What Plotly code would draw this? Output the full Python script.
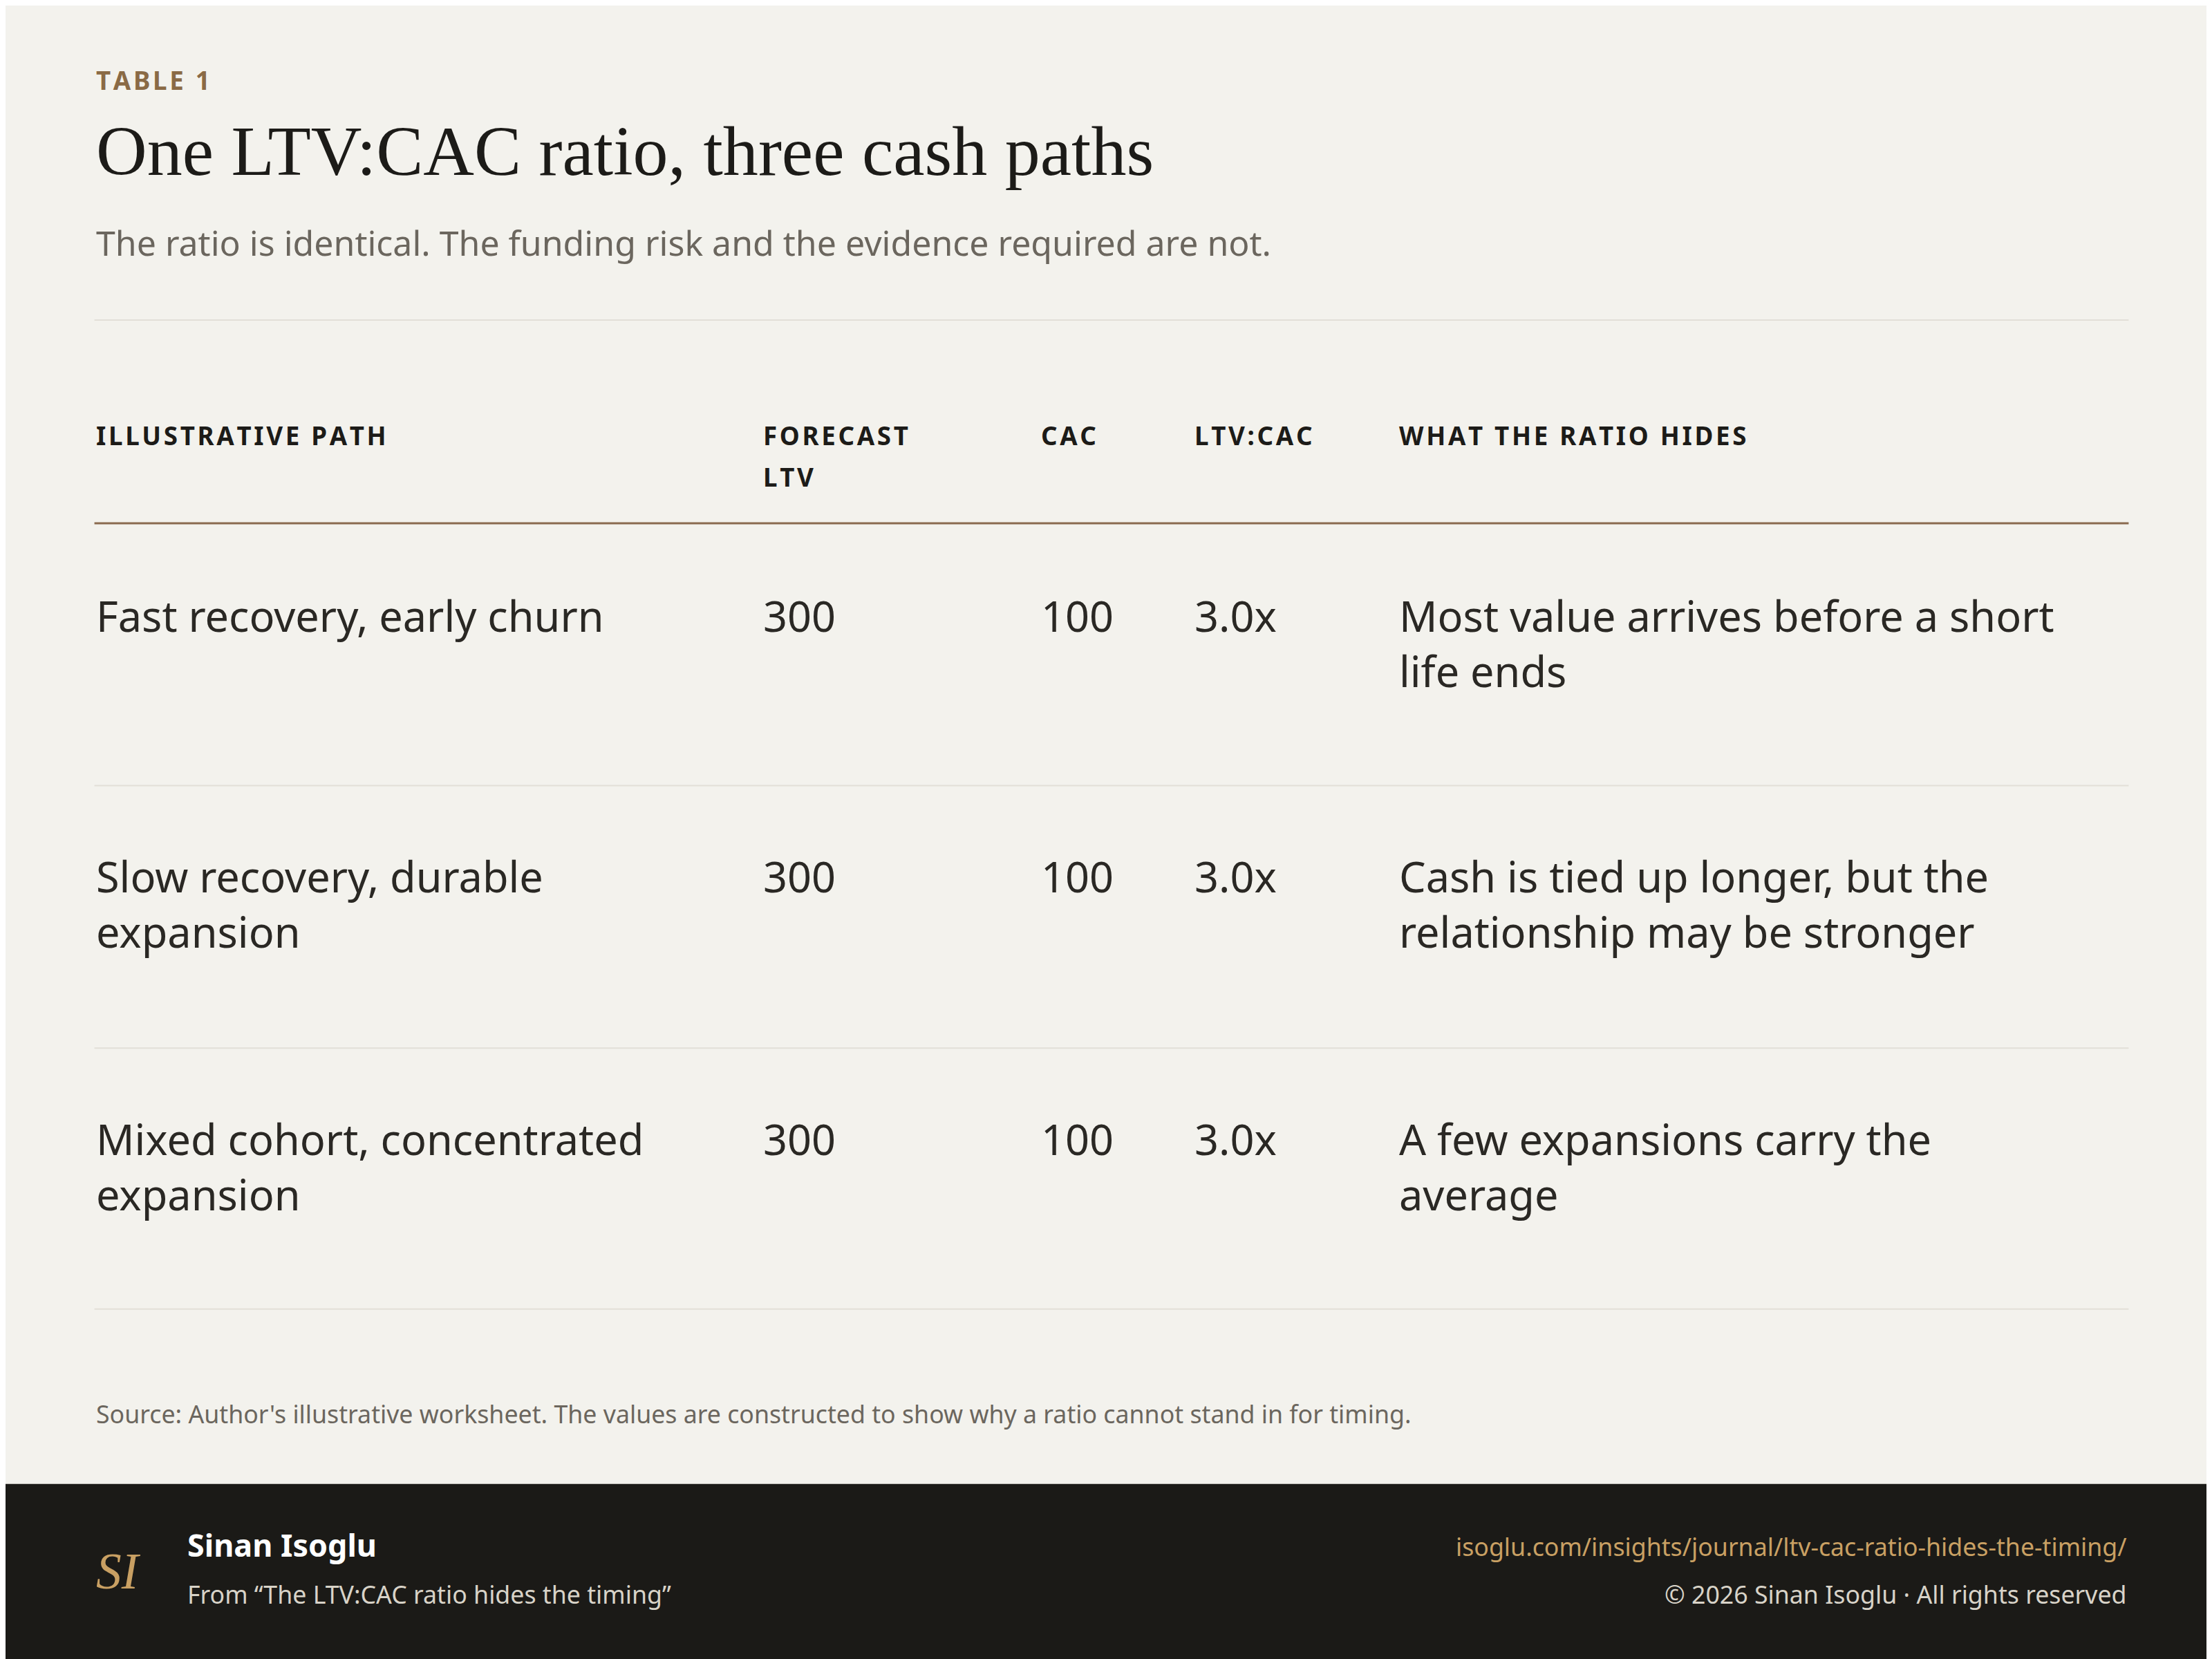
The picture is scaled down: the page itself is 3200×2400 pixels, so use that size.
import plotly.graph_objects as go

S = 3200 / 1568  # layout drawn in pixel units of the page

kicker = "TABLE 1"
title = "One LTV:CAC ratio, three cash paths"
subtitle = "The ratio is identical. The funding risk and the evidence required are not."
headers = ["ILLUSTRATIVE PATH", "FORECAST<br>LTV", "CAC", "LTV:CAC", "WHAT THE RATIO HIDES"]
paths = ["Fast recovery, early churn", "Slow recovery, durable<br>expansion",
         "Mixed cohort, concentrated<br>expansion"]
ltv = ["300", "300", "300"]
cac = ["100", "100", "100"]
ratio = ["3.0x", "3.0x", "3.0x"]
hides = ["Most value arrives before a short<br>life ends",
         "Cash is tied up longer, but the<br>relationship may be stronger",
         "A few expansions carry the<br>average"]
source = "Source: Author's illustrative worksheet. The values are constructed to show why a ratio cannot stand in for timing."
author = "Sinan Isoglu"
origin = "From “The LTV:CAC ratio hides the timing”"
url = "isoglu.com/insights/journal/ltv-cac-ratio-hides-the-timing/"
rights = "© 2026 Sinan Isoglu · All rights reserved"

col_x = [63, 536, 733, 842, 987]
row_y = [435, 620, 806]
sep_y = [553, 739, 924]

SANS = "Noto Sans"
SERIF = "Liberation Serif"
INK = "#1c1b18"
MUTED = "#6b665e"


def track(s):
    return "\u200a".join(s)


fig = go.Figure()
ann = []


def txt(x, y, t, size, color=INK, font=SANS, anchor="left", yanchor="middle", bold=False):
    if bold:
        t = "<b>" + t + "</b>"
    ann.append(dict(x=x * S, y=y * S, text=t, showarrow=False, xanchor=anchor, yanchor=yanchor,
                    align=anchor, font=dict(family=font, size=size * S, color=color)))


txt(63, 53, track(kicker), 18, "#8a6a45", bold=True)
txt(63, 103, title, 50, INK, SERIF)
txt(63, 168, subtitle, 24.5, MUTED)

for x, h in zip(col_x, headers):
    parts = h.split("<br>")
    txt(x, 305, track(parts[0]), 18, INK, bold=True)
    if len(parts) > 1:
        txt(x, 334, track(parts[1]), 18, INK, bold=True)

for i, y in enumerate(row_y):
    cells = [paths[i], ltv[i], cac[i], ratio[i], hides[i]]
    for x, c in zip(col_x, cells):
        ann.append(dict(x=x * S, y=(y - 24) * S, text=c, showarrow=False, xanchor="left",
                        yanchor="top", align="left",
                        font=dict(family=SANS, size=30 * S, color="#2a2824")))

txt(63, 998, source, 17.5, MUTED)

txt(63, 1110, "<i>SI</i>", 36, "#c9a063", SERIF, bold=False)
txt(128, 1091, author, 22, "#ffffff", bold=True)
txt(128, 1126, origin, 17.5, "#d8d3c8")
txt(1505, 1092, url, 17.5, "#c9a063", anchor="right")
txt(1505, 1126, rights, 17.5, "#d8d3c8", anchor="right")

shapes = [
    dict(type="rect", x0=0, x1=3200, y0=1048 * S, y1=2400, fillcolor="#1b1a17", line_width=0, layer="below"),
    dict(type="line", x0=63 * S, x1=1505 * S, y0=223 * S, y1=223 * S, line=dict(color="#e2dfd8", width=2)),
    dict(type="line", x0=63 * S, x1=1505 * S, y0=367 * S, y1=367 * S, line=dict(color="#8a6a4f", width=3)),
]
for y in sep_y:
    shapes.append(dict(type="line", x0=63 * S, x1=1505 * S, y0=y * S, y1=y * S,
                       line=dict(color="#e2dfd8", width=2)))

fig.update_layout(
    width=3200, height=2400, margin=dict(l=0, r=0, t=0, b=0),
    paper_bgcolor="#f3f2ed", plot_bgcolor="#f3f2ed",
    xaxis=dict(range=[0, 3200], visible=False, fixedrange=True),
    yaxis=dict(range=[2400, 0], visible=False, fixedrange=True),
    annotations=ann, shapes=shapes, showlegend=False,
)

fig.write_html("out.html")
